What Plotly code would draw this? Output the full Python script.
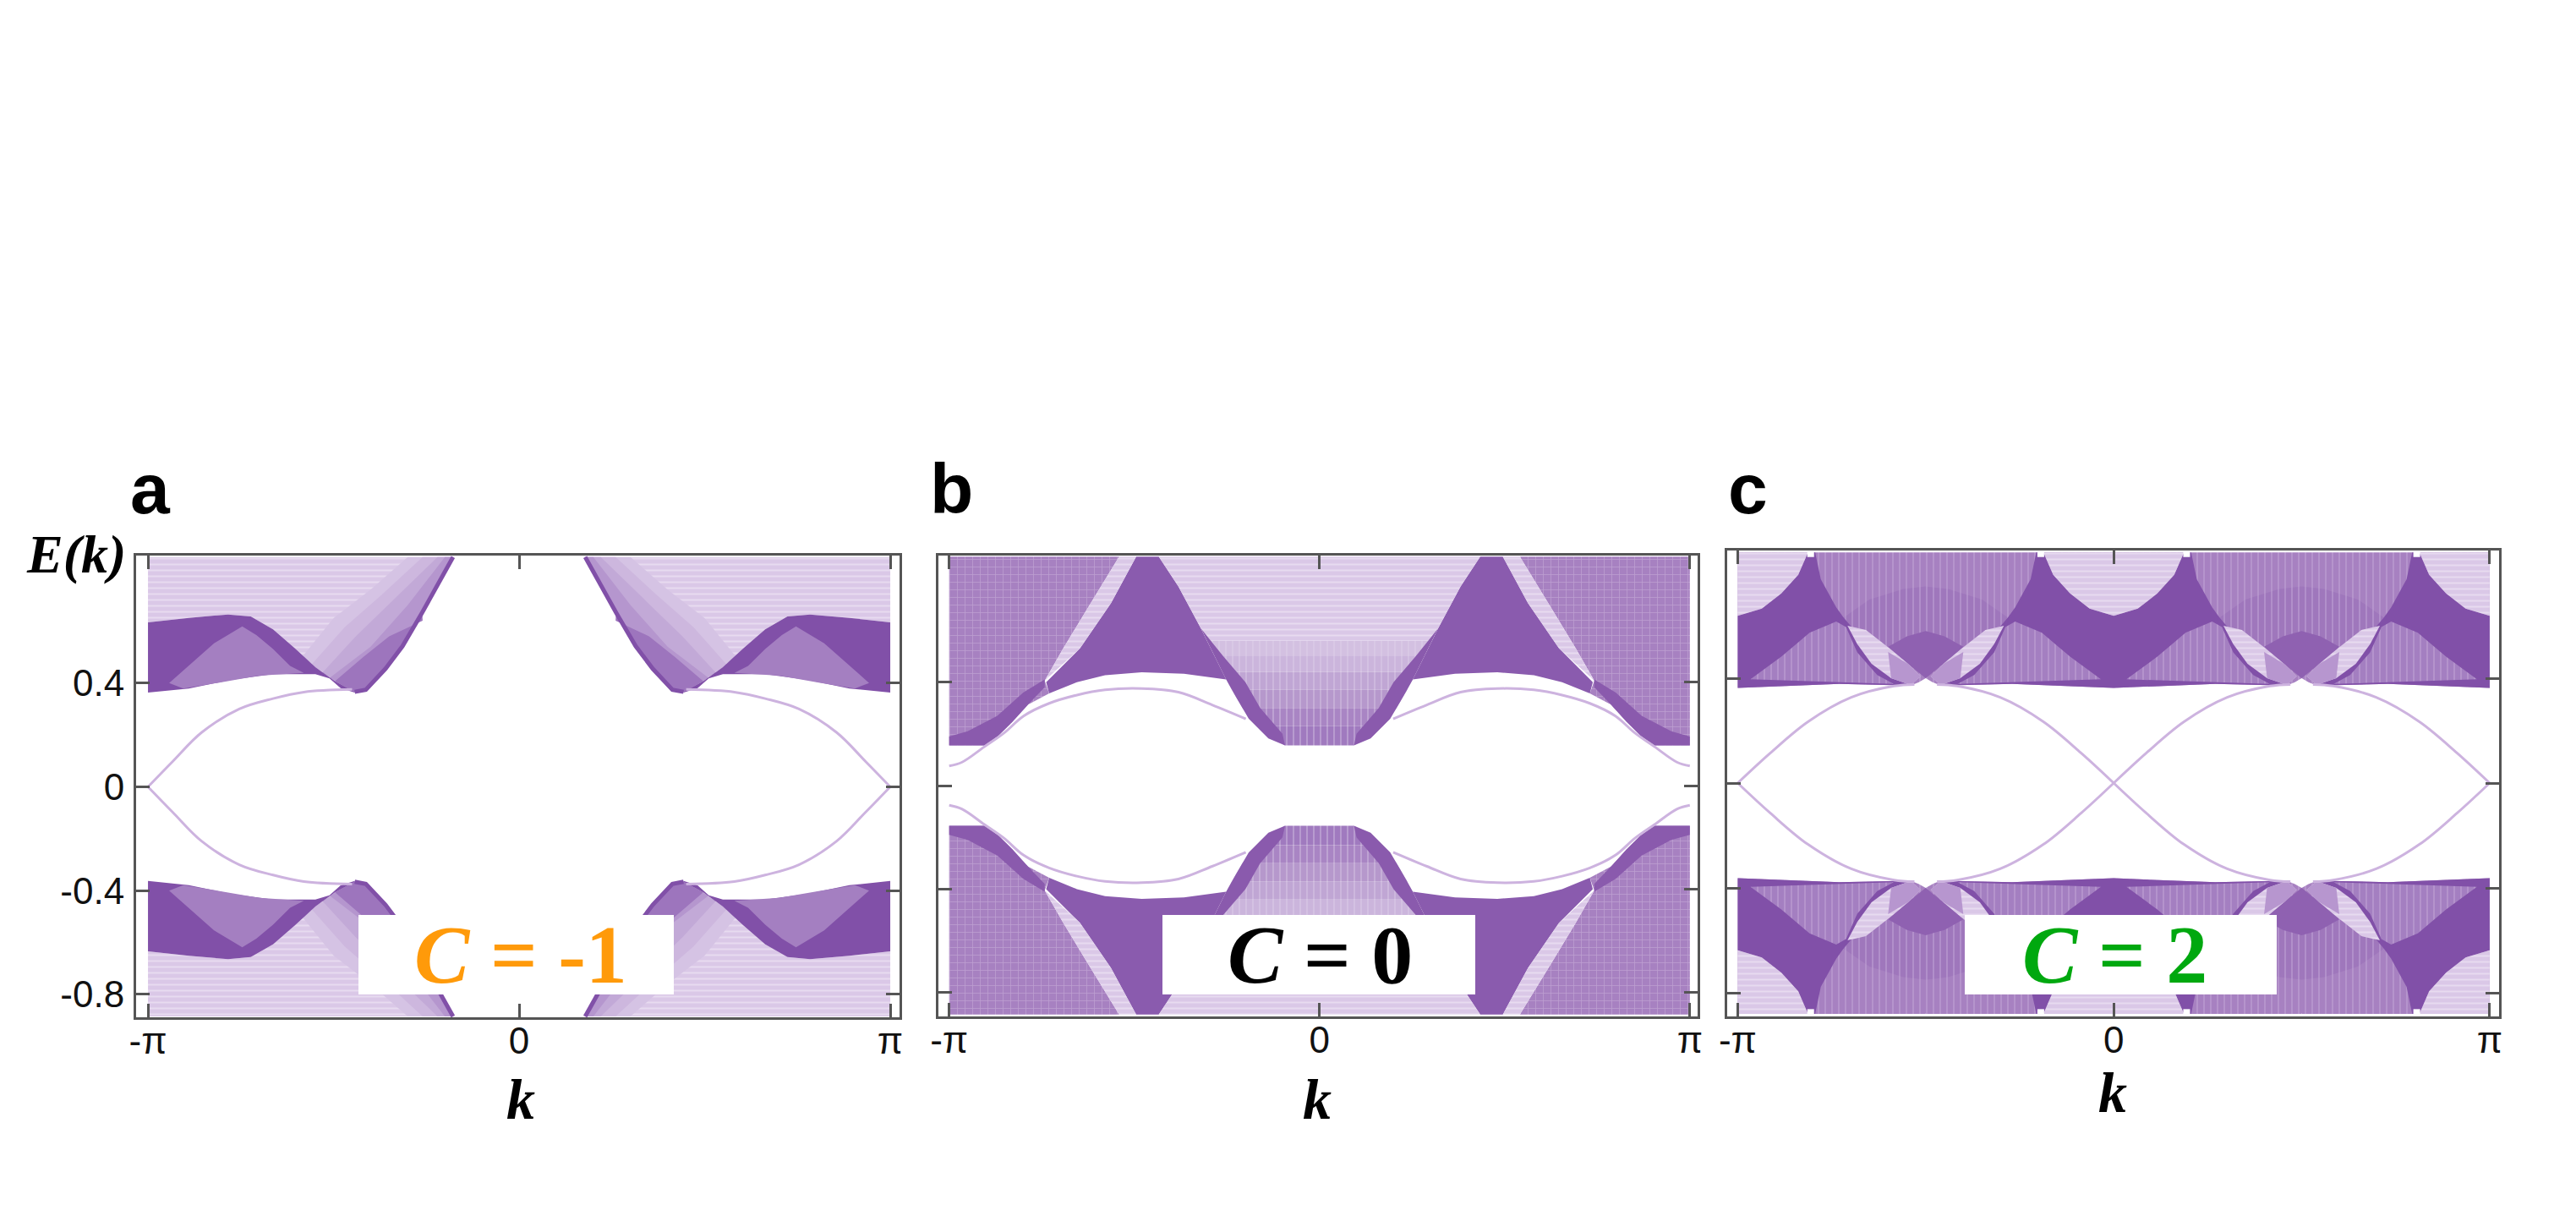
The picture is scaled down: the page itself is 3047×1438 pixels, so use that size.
import plotly.graph_objects as go

W, H = 3047, 1438

# ---------- data: k in units of pi, E as on the axis ----------
y_ticks = [-0.8, -0.4, 0, 0.4]
y_labels = ["-0.8", "-0.4", "0", "0.4"]
x_ticks = [-1, 0, 1]
x_labels = ["-π", "0", "π"]
panel_letters = ["a", "b", "c"]
chern_text = ["-1", "0", "2"]

# Panel a, quadrant k<0, E>0
a_cone_top_k = [-0.443, -0.413, -0.36, -0.314, -0.261, -0.216, -0.178]
a_cone_top_E = [0.366, 0.374, 0.455, 0.542, 0.672, 0.791, 0.885]
a_dtop_k = [-1, -0.89, -0.784, -0.723, -0.663, -0.602, -0.549, -0.496, -0.443]
a_dtop_E = [0.634, 0.651, 0.664, 0.656, 0.607, 0.531, 0.461, 0.407, 0.366]
a_dbot_k = [-0.443, -0.481, -0.511, -0.549, -0.663, -0.777, -0.89, -1]
a_dbot_E = [0.363, 0.38, 0.418, 0.434, 0.434, 0.412, 0.379, 0.363]
a_mid_k = [-0.943, -0.883, -0.822, -0.746, -0.708, -0.663, -0.617, -0.58, -0.701, -0.814, -0.905]
a_mid_E = [0.40, 0.477, 0.553, 0.618, 0.585, 0.531, 0.466, 0.439, 0.428, 0.40, 0.379]
# inner limits of the shading steps inside the cone, darkest last
a_shade0_k = [-0.30, -0.40, -0.50, -0.585]
a_shade0_E = [0.885, 0.76, 0.65, 0.50]
a_shade1_k = [-0.26, -0.37, -0.47, -0.56]
a_shade1_E = [0.885, 0.74, 0.615, 0.47]
a_shade2_k = [-0.22, -0.34, -0.44, -0.53]
a_shade2_E = [0.885, 0.72, 0.58, 0.44]
a_shade3_k = [-0.20, -0.30, -0.40, -0.51]
a_shade3_E = [0.885, 0.70, 0.54, 0.42]
a_shade4_k = [-0.26, -0.35, -0.42, -0.496]
a_shade4_E = [0.64, 0.58, 0.50, 0.407]
a_edge_k = [-1, -0.934, -0.855, -0.754, -0.663, -0.58, -0.45]
a_edge_E = [0, 0.097, 0.21, 0.30, 0.34, 0.365, 0.375]

# Panel b, quadrant k<0, E>0
b_left_k = [-1, -0.541, -0.632, -0.692, -0.742, -0.73, -0.787, -0.829, -0.867, -0.905, -1]
b_left_E = [0.885, 0.885, 0.672, 0.53, 0.405, 0.356, 0.313, 0.247, 0.193, 0.155, 0.155]
b_strip_k = [-1, -0.905, -0.867, -0.829, -0.787, -0.742, -0.742, -0.80, -0.87, -0.95, -1]
b_strip_E = [0.155, 0.155, 0.193, 0.247, 0.313, 0.38, 0.41, 0.36, 0.27, 0.21, 0.19]
b_tri_k = [-0.495, -0.434, -0.381, -0.32, -0.252, -0.366, -0.48, -0.579, -0.655, -0.73, -0.738, -0.647, -0.563]
b_tri_E = [0.885, 0.885, 0.77, 0.607, 0.41, 0.432, 0.438, 0.427, 0.40, 0.356, 0.40, 0.53, 0.705]
b_sliver_k = [-0.541, -0.495, -0.563, -0.647, -0.742, -0.692, -0.632]
b_sliver_E = [0.885, 0.885, 0.705, 0.53, 0.405, 0.53, 0.672]
b_c1_k = [-0.434, 0, 0, -0.304, -0.32, -0.381]
b_c1_E = [0.885, 0.885, 0.56, 0.56, 0.607, 0.77]
# outer edge of the central column at successive energies
b_level_E = [0.56, 0.50, 0.44, 0.37, 0.30, 0.23, 0.155]
b_level_k = [-0.304, -0.283, -0.262, -0.237, -0.208, -0.17, -0.093]
b_rimband_k = [-0.32, -0.252, -0.222, -0.191, -0.138, -0.093, -0.10, -0.16, -0.20, -0.26]
b_rimband_E = [0.607, 0.41, 0.334, 0.258, 0.182, 0.155, 0.20, 0.30, 0.40, 0.50]
b_edge_k = [-1, -0.966, -0.905, -0.852, -0.799, -0.73, -0.655, -0.579, -0.48, -0.381, -0.29, -0.199]
b_edge_E = [0.076, 0.09, 0.15, 0.203, 0.269, 0.318, 0.35, 0.37, 0.375, 0.361, 0.312, 0.258]

# Panel c, k in [-1,-0.5], E>0
c_env_k = [-1, -0.5, -0.5, -0.518, -0.54, -0.73, -1]
c_env_E = [0.88, 0.88, 0.40, 0.385, 0.372, 0.378, 0.363]
c_low_k = [-0.72, -0.65, -0.56, -0.5, -0.5, -0.547, -0.592, -0.659, -0.708]
c_low_E = [0.63, 0.70, 0.74, 0.75, 0.40, 0.455, 0.509, 0.584, 0.60]
c_low2_k = [-0.60, -0.55, -0.5, -0.5, -0.547, -0.592]
c_low2_E = [0.52, 0.56, 0.58, 0.40, 0.455, 0.509]
c_dark_k = [-1, -0.936, -0.884, -0.839, -0.813, -0.794, -0.779, -0.738, -0.719, -0.70, -0.55, -0.54, -0.73, -1]
c_dark_E = [0.638, 0.665, 0.723, 0.794, 0.88, 0.88, 0.777, 0.67, 0.632, 0.60, 0.40, 0.372, 0.378, 0.363]
c_cap_k = [-1, -0.813, -0.839, -0.884, -0.936, -1]
c_cap_E = [0.88, 0.88, 0.794, 0.723, 0.665, 0.638]
c_tri_k = [-0.966, -0.884, -0.809, -0.738, -0.712, -0.682, -0.629, -0.585]
c_tri_E = [0.396, 0.482, 0.573, 0.616, 0.595, 0.498, 0.412, 0.378]
c_lens_k = [-0.708, -0.659, -0.592, -0.547, -0.513, -0.54, -0.592, -0.644, -0.682]
c_lens_E = [0.60, 0.584, 0.509, 0.455, 0.407, 0.374, 0.40, 0.455, 0.53]
c_lens2_k = [-0.60, -0.547, -0.513, -0.54, -0.592]
c_lens2_E = [0.50, 0.455, 0.407, 0.374, 0.40]
c_edge_k = [-1, -0.913, -0.813, -0.698, -0.584, -0.53]
c_edge_E = [0, 0.115, 0.234, 0.327, 0.37, 0.376]
c_dot_k = [-0.806]
c_dot_E = [0.875]

# ---------- style ----------
LIGHT, MID, STRIPE, DARK = "#dac8e7", "#a47fc1", "#a781c1", "#8150a8"
EDGE = "#cdb3df"
FRAME = "#555555"
B_LEVEL_COLORS = ["#d3c0e1", "#cbb5dc", "#c0a6d4", "#b698cc", "#a985c4", "#a07abf"]
A_SHADE_COLORS = ["#d5c3e4", "#cdb7de", "#c2a9d7", "#b596ce", "#9d75bd"]
PANELS = [
    dict(x0=161, x1=1064, y0=657, y1=1203, xr=[-1.032, 1.025], yr=[-0.888, 0.891]),
    dict(x0=1110, x1=2008, y0=657, y1=1202, xr=[-1.029, 1.021], yr=[-0.892, 0.889]),
    dict(x0=2043, x1=2956, y0=651, y1=1202, xr=[-1.028, 1.025], yr=[-0.89, 0.887]),
]
BOX = [(424, 797, "#ff9a0a"), (1375, 1745, "#000000"), (2324, 2693, "#00a80f")]
TEXT_X = [616, 1562, 2501]
LETTER_X = [152, 1098, 2042]
KX = [616, 1558, 2499]
KY = [1300, 1300, 1292]


def px(x):
    return x / W


def py(y):
    return 1 - y / H


def quadrants(k, E):
    xs, ys = [], []
    for sk in (1, -1):
        for sE in (1, -1):
            xs += [sk * v for v in k] + [None]
            ys += [sE * v for v in E] + [None]
    return xs, ys


def periods(k, E):
    xs, ys = [], []
    for f in (lambda v: v, lambda v: -1 - v, lambda v: v + 1, lambda v: -v):
        for sE in (1, -1):
            xs += [f(v) for v in k] + [None]
            ys += [sE * v for v in E] + [None]
    return xs, ys


fig = go.Figure()


def fill(idx, xy, color, pattern=None):
    t = dict(x=xy[0], y=xy[1], mode="lines", fill="toself", fillcolor=color,
             line=dict(width=0), hoverinfo="skip", showlegend=False,
             xaxis=f"x{idx}", yaxis=f"y{idx}")
    if pattern:
        t["fillpattern"] = dict(shape=pattern[0], size=pattern[1], solidity=pattern[2],
                                fgcolor=pattern[3], bgcolor=color)
    fig.add_trace(go.Scatter(**t))


def line(idx, xy, color, width, spline=False):
    fig.add_trace(go.Scatter(x=xy[0], y=xy[1], mode="lines", connectgaps=False,
                             line=dict(color=color, width=width,
                                       shape="spline" if spline else "linear"),
                             hoverinfo="skip", showlegend=False,
                             xaxis=f"x{idx}", yaxis=f"y{idx}"))


HATCH = ("-", 7, 0.28, "#f4eef8")
VHATCH = ("|", 8, 0.25, "#c3a7d8")
GRID = ("+", 9, 0.16, "#d4bfe3")

# panel a
a_env_k = [-1, -0.178] + a_cone_top_k[::-1] + a_dtop_k[::-1][1:]
a_env_E = [0.885, 0.885] + a_cone_top_E[::-1] + a_dtop_E[::-1][1:]
fill(1, quadrants(a_env_k, a_env_E), LIGHT, HATCH)
a_shades = [(a_shade0_k, a_shade0_E), (a_shade1_k, a_shade1_E), (a_shade2_k, a_shade2_E),
            (a_shade3_k, a_shade3_E), (a_shade4_k, a_shade4_E)]
for (sk, sE), col in zip(a_shades, A_SHADE_COLORS):
    # each step runs from its inner limit to the cone's steep side, closing along the dark band
    outline_k = sk + [-0.443] + a_cone_top_k + [-0.178]
    outline_E = sE + [0.366] + a_cone_top_E + [0.885]
    if sE[0] < 0.8:   # the last step does not reach the top of the frame
        outline_k = sk + [-0.443] + a_cone_top_k[:5]
        outline_E = sE + [0.366] + a_cone_top_E[:5]
    fill(1, quadrants(outline_k, outline_E), col)
fill(1, quadrants(a_dtop_k + a_dbot_k, a_dtop_E + a_dbot_E), DARK)
fill(1, quadrants(a_mid_k, a_mid_E), MID)
line(1, quadrants(a_cone_top_k, a_cone_top_E), DARK, 5)
line(1, quadrants(a_edge_k, a_edge_E), EDGE, 3, spline=True)

# panel b
fill(2, quadrants(b_left_k, b_left_E), STRIPE, GRID)
fill(2, quadrants(b_strip_k, b_strip_E), "#8a5aad")
fill(2, quadrants(b_tri_k, b_tri_E), "#8a5bae")
fill(2, quadrants(b_sliver_k, b_sliver_E), LIGHT, HATCH)
fill(2, quadrants(b_c1_k, b_c1_E), LIGHT, HATCH)
for j, col in enumerate(B_LEVEL_COLORS):
    ring_k = [b_level_k[j], 0, 0, b_level_k[j + 1]]
    ring_E = [b_level_E[j], b_level_E[j], b_level_E[j + 1], b_level_E[j + 1]]
    fill(2, quadrants(ring_k, ring_E), col, ("|", 8, 0.18, "#e2d5ec"))
fill(2, quadrants(b_rimband_k, b_rimband_E), "#8a5aad")
line(2, quadrants(b_edge_k, b_edge_E), EDGE, 3, spline=True)

# panel c
fill(3, periods(c_env_k, c_env_E), STRIPE, VHATCH)
fill(3, periods(c_low_k, c_low_E), "#9f77bc", VHATCH)
fill(3, periods(c_low2_k, c_low2_E), "#8f61b1")
fill(3, periods(c_dark_k, c_dark_E), DARK)
fill(3, periods(c_cap_k, c_cap_E), LIGHT, HATCH)
fill(3, periods(c_tri_k, c_tri_E), MID, VHATCH)
fill(3, periods(c_lens_k, c_lens_E), LIGHT, HATCH)
fill(3, periods(c_lens2_k, c_lens2_E), "#b796cf")
line(3, periods(c_edge_k, c_edge_E), EDGE, 3, spline=True)
dx, dy = periods(c_dot_k, c_dot_E)
fig.add_trace(go.Scatter(x=dx, y=dy, mode="markers",
                         marker=dict(symbol="square", size=8, color="white"),
                         hoverinfo="skip", showlegend=False, xaxis="x3", yaxis="y3"))

layout = dict(width=W, height=H, margin=dict(l=0, r=0, t=0, b=0, autoexpand=False),
              paper_bgcolor="white", plot_bgcolor="white", showlegend=False)
shapes, ann = [], []
TICK_FONT = dict(family="Liberation Sans", size=44, color="#111111")
for i, p in enumerate(PANELS, start=1):
    common = dict(showgrid=False, zeroline=False, showline=True, mirror="allticks",
                  automargin=False, linecolor=FRAME, linewidth=3, ticks="inside",
                  ticklen=16, tickwidth=3, tickcolor=FRAME, tickfont=TICK_FONT,
                  layer="above traces")
    layout[f"xaxis{i}"] = dict(domain=[px(p["x0"]), px(p["x1"])], range=p["xr"], anchor=f"y{i}",
                               tickmode="array", tickvals=x_ticks, ticktext=x_labels,
                               ticklabelstandoff=-13, **common)
    layout[f"yaxis{i}"] = dict(domain=[py(p["y1"]), py(p["y0"])], range=p["yr"], anchor=f"x{i}",
                               tickmode="array", tickvals=y_ticks, ticktext=y_labels,
                               showticklabels=(i == 1), ticklabelstandoff=2, **common)
    bx0, bx1, col = BOX[i - 1]
    shapes.append(dict(type="rect", xref="paper", yref="paper", x0=px(bx0), x1=px(bx1),
                       y0=py(1176), y1=py(1082), fillcolor="white", line=dict(width=0),
                       layer="above"))
    ann.append(dict(x=px(TEXT_X[i - 1]), y=py(1129), xref="paper", yref="paper",
                    xanchor="center", yanchor="middle",
                    text=f"<b><i>C</i> = {chern_text[i - 1]}</b>", showarrow=False,
                    font=dict(family="Liberation Serif", size=98, color=col)))
    ann.append(dict(x=px(LETTER_X[i - 1]), y=py(578), xref="paper", yref="paper",
                    xanchor="left", yanchor="middle",
                    text=f"<b>{panel_letters[i - 1]}</b>", showarrow=False,
                    font=dict(family="Liberation Sans", size=84, color="black")))
    ann.append(dict(x=px(KX[i - 1]), y=py(KY[i - 1]), xref="paper", yref="paper",
                    xanchor="center", yanchor="middle",
                    text="<b><i>k</i></b>", showarrow=False,
                    font=dict(family="Liberation Serif", size=68, color="black")))
ann.append(dict(x=px(90), y=py(655), xref="paper", yref="paper",
                xanchor="center", yanchor="middle",
                text="<b><i>E(k)</i></b>", showarrow=False,
                font=dict(family="Liberation Serif", size=64, color="black")))
layout["shapes"] = shapes
layout["annotations"] = ann
fig.update_layout(**layout)
fig.write_html("out.html", config={"displayModeBar": False},
               post_script="document.body.style.margin='0';")
